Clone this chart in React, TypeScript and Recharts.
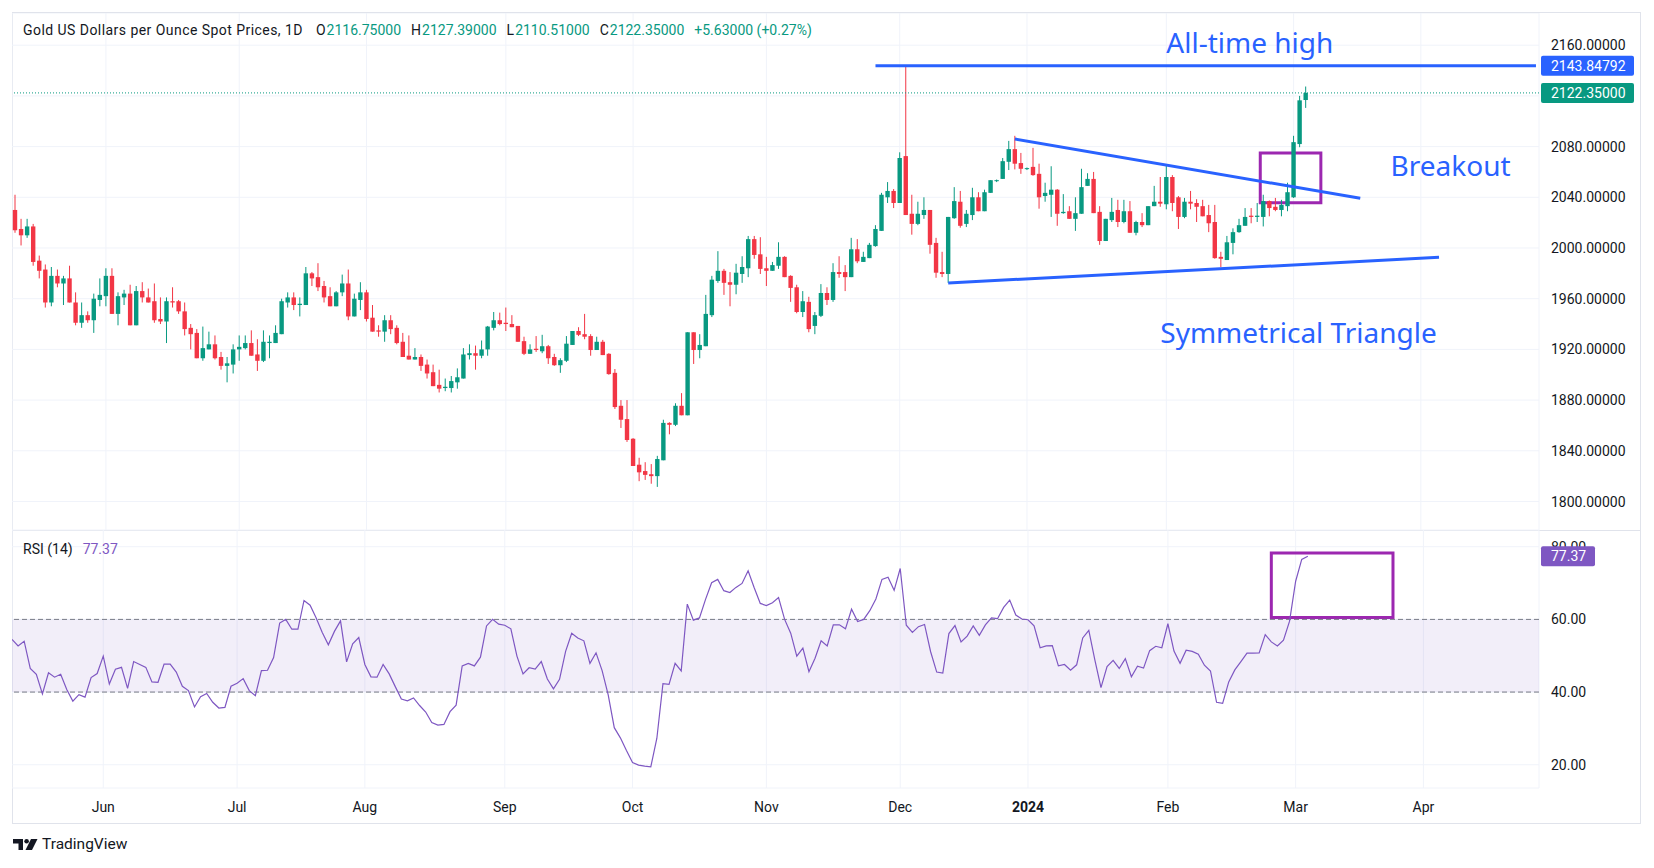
import React from "react";
import {
  ComposedChart,
  Bar,
  Line,
  XAxis,
  YAxis,
  CartesianGrid,
  ReferenceLine,
  ReferenceArea,
  ReferenceDot,
} from "recharts";

// Daily candles (spot gold, USD/oz), 2023-05-11 .. 2024-03-05
const START_DATE = "2023-05-11";
const SLOT_COUNT = 252; // trading days incl. the empty right-hand space

const opens = [
  2030, 2015, 2010, 2017, 1990, 1983, 1957, 1978, 1972, 1976, 1957, 1941, 1947, 1943, 1959, 1962, 1978, 1948, 1961, 1964,
  1939, 1966, 1961, 1958, 1944, 1942, 1958, 1958, 1950, 1937, 1933, 1913, 1920, 1924, 1914, 1907, 1908, 1920, 1921, 1925,
  1916, 1911, 1925, 1925, 1932, 1957, 1961, 1955, 1955, 1980, 1977, 1970, 1962, 1954, 1965, 1972, 1946, 1959, 1965, 1945,
  1935, 1934, 1943, 1937, 1926, 1915, 1912, 1914, 1908, 1902, 1892, 1889.5, 1889.5, 1894, 1897, 1915.5, 1917, 1915, 1920, 1937,
  1943, 1941, 1940, 1938.5, 1926.5, 1916.5, 1920.5, 1918.5, 1922.5, 1914, 1907.5, 1911, 1923.5, 1934.5, 1932, 1930.5, 1919.5, 1926, 1916.5, 1901.5,
  1875.5, 1865, 1849.5, 1829, 1824, 1821.5, 1820, 1832.5, 1862, 1860.5, 1875.5, 1868, 1933.5, 1919.5, 1922.5, 1947, 1974, 1982, 1973, 1971,
  1979.5, 1984, 2007, 1995, 1984, 1982, 1986, 1993, 1978, 1969, 1949.5, 1957.5, 1938.5, 1946.5, 1964.5, 1959, 1981, 1981, 1977, 1999,
  1989, 1992, 2001.5, 2013.5, 2040, 2045, 2035.5, 2072.5, 2027, 2019, 2026, 2030, 2004, 1981, 1979.5, 2023.5, 2036.5, 2019, 2026, 2040,
  2029, 2043.5, 2053, 2054.5, 2068, 2078, 2067, 2062.5, 2064, 2058.5, 2041, 2042, 2046, 2027.5, 2029, 2023, 2027, 2049, 2054.5, 2028.5,
  2005.5, 2022, 2030, 2020.5, 2029, 2012, 2020.5, 2018, 2033, 2036.5, 2034.5, 2056, 2040, 2024.5, 2036.5, 2035.5, 2033, 2026, 2020.5, 1993,
  1990.5, 2004, 2012.5, 2017.5, 2025.5, 2024.5, 2024.5, 2037, 2032.5, 2030, 2033, 2040, 2082, 2116.75,
];

const highs = [
  2042, 2023, 2023, 2019, 1994, 1987, 1985, 1983, 1978, 1986, 1965, 1957, 1950, 1964, 1976, 1984, 1984, 1965, 1967, 1971,
  1970, 1973, 1968, 1972, 1961, 1961, 1969, 1959, 1957, 1940, 1936, 1938, 1934, 1931, 1918, 1914, 1924, 1931, 1931, 1935,
  1928, 1935, 1931, 1939, 1960, 1965, 1965, 1961, 1985, 1981, 1988, 1974, 1969, 1966, 1979, 1983, 1964, 1973, 1967, 1955,
  1939, 1947, 1947, 1939, 1933, 1931, 1921, 1916, 1912, 1908, 1904, 1897, 1899, 1905, 1921, 1924, 1923, 1927, 1938.5, 1949.5,
  1949, 1953, 1947, 1938.5, 1930, 1924, 1930.5, 1931.5, 1923.5, 1916.5, 1913, 1930.5, 1934.5, 1937.5, 1948, 1932, 1930, 1927.5, 1917, 1904.5,
  1880, 1880, 1850, 1834.5, 1831, 1829.5, 1836, 1864.5, 1862.5, 1877.5, 1885.5, 1933.5, 1933.5, 1932, 1963, 1978, 1997.5, 1983.5, 1981, 1987.5,
  1993.5, 2009.5, 2009.5, 2008.5, 1993, 1989, 2004.5, 1993.5, 1978.5, 1971, 1966, 1961.5, 1949.5, 1971.5, 1969, 1988, 1993.5, 1986.5, 2008, 2007,
  1997, 2004, 2018, 2043.5, 2052, 2046.5, 2075.5, 2143.85, 2042, 2036.5, 2040, 2030, 2008, 1997, 2024.5, 2048, 2045, 2030, 2047.5, 2044,
  2046, 2053.5, 2054, 2071, 2084.5, 2088.5, 2075, 2063.5, 2079, 2066.5, 2051.5, 2064.5, 2046.5, 2042.5, 2033, 2040, 2062.5, 2059, 2060, 2033,
  2023, 2039.5, 2038, 2038, 2037, 2021.5, 2027.5, 2033, 2049, 2056, 2065.5, 2057.5, 2041, 2039.5, 2045, 2038.5, 2038, 2034, 2034, 1997,
  2009.5, 2015.5, 2023, 2031.5, 2031.5, 2035.5, 2042, 2037.5, 2039.5, 2038, 2051.5, 2088.5, 2120, 2127.39,
];

const lows = [
  2012, 2002, 2008, 1986, 1976, 1953, 1954, 1969, 1955, 1957, 1939, 1937, 1941, 1933, 1954, 1954, 1948, 1939, 1955, 1939,
  1939, 1957, 1957, 1941, 1940, 1925, 1953, 1948, 1931, 1920, 1913, 1911, 1920, 1912, 1904, 1894, 1901, 1911, 1920, 1915,
  1903, 1910, 1913, 1925, 1932, 1953, 1951, 1946, 1955, 1970, 1966, 1957, 1954, 1954, 1962, 1943, 1946, 1951, 1942, 1934,
  1930, 1926, 1932, 1924, 1914, 1912, 1912, 1903, 1897, 1891, 1886, 1887, 1886, 1889, 1897, 1912, 1904, 1913, 1915, 1935,
  1939, 1934.5, 1937.5, 1926, 1915.5, 1916.5, 1918, 1917, 1908.5, 1907, 1901.5, 1910, 1923.5, 1930.5, 1928, 1915, 1919.5, 1915.5, 1900, 1873,
  1858, 1847, 1828, 1816, 1817, 1814, 1811.5, 1832.5, 1853, 1859.5, 1868, 1868, 1908.5, 1913, 1922.5, 1945.5, 1972.5, 1963, 1954, 1963.5,
  1972.5, 1977, 1991.5, 1979.5, 1970, 1982, 1983.5, 1977, 1957.5, 1948.5, 1945.5, 1933.5, 1932, 1945.5, 1955, 1957.5, 1976.5, 1966, 1977, 1988,
  1989, 1992, 2001, 2013.5, 2035.5, 2031.5, 2035.5, 2026, 2010.5, 2018, 2023, 1995.5, 1976.5, 1977, 1972.5, 2023, 2016, 2016.5, 2022, 2029,
  2029, 2043.5, 2052, 2054.5, 2061.5, 2062, 2058.5, 2061.5, 2057, 2031, 2036.5, 2024.5, 2017.5, 2027, 2023, 2013.5, 2027, 2049, 2027.5, 2002.5,
  2005.5, 2020.5, 2016.5, 2019.5, 2012, 2010, 2016.5, 2018, 2033, 2032.5, 2030.5, 2029, 2015, 2023.5, 2030.5, 2020.5, 2025, 2012.5, 1991.5, 1985,
  1990.5, 1995, 2012, 2017.5, 2019.5, 2020.5, 2017, 2025, 2029, 2025, 2029, 2039.5, 2079.5, 2110.51,
];

const closes = [
  2014, 2010, 2017, 1989, 1982, 1957, 1978, 1972, 1976, 1957, 1941, 1947, 1943, 1960, 1963, 1978, 1948, 1962, 1964, 1939,
  1966, 1961, 1957, 1943, 1942, 1958, 1957, 1950, 1936, 1932, 1913, 1921, 1924, 1913, 1907, 1909, 1920, 1922, 1925, 1915,
  1911, 1926, 1926, 1933, 1958, 1961, 1955, 1956, 1980, 1976, 1969, 1961, 1954, 1965, 1972, 1946, 1960, 1965, 1944, 1934,
  1934, 1943, 1936, 1925, 1914, 1912, 1914, 1907, 1901, 1891, 1889, 1890.5, 1895, 1898, 1916, 1917, 1915, 1920, 1938, 1943,
  1940, 1940, 1937.5, 1926, 1916.5, 1920, 1919.5, 1922.5, 1913, 1907.5, 1911.5, 1924.5, 1934.5, 1931.5, 1930, 1919.5, 1926, 1915.5, 1900.5, 1874.5,
  1864.5, 1848.5, 1828, 1823, 1821, 1820, 1833.5, 1862, 1860.5, 1875.5, 1868, 1933.5, 1919.5, 1923.5, 1948, 1975, 1982, 1972.5, 1971, 1980.5,
  1985, 2007, 1994.5, 1983.5, 1982, 1986.5, 1993, 1977, 1968.5, 1949.5, 1958, 1936, 1947, 1964.5, 1959, 1981, 1979.5, 1977, 1999, 1989.5,
  1993, 2002.5, 2015, 2042, 2045, 2035.5, 2071, 2026, 2019, 2027, 2030, 2002.5, 1980.5, 1979.5, 2024.5, 2037, 2017.5, 2027, 2040, 2029,
  2044, 2053.5, 2053.5, 2068.5, 2078, 2066.5, 2062.5, 2063, 2057.5, 2040, 2043.5, 2046, 2027, 2028.5, 2023, 2027.5, 2048, 2054.5, 2027.5, 2005.5,
  2023, 2028.5, 2020.5, 2029, 2012, 2020.5, 2018, 2033, 2036.5, 2035, 2056, 2035.5, 2024.5, 2036.5, 2035, 2032.5, 2025, 2019.5, 1992, 1991.5,
  2004.5, 2012.5, 2018, 2024.5, 2024.5, 2025.5, 2037, 2031.5, 2030, 2034, 2044, 2083.5, 2116.5, 2122.35,
];

// RSI (14) as drawn in the lower pane
const rsiValues = [
  54.5, 52.7, 54.0, 46.5, 44.9, 39.5, 45.3, 44.1, 44.9, 40.7, 37.5, 39.3, 38.6, 44.0, 45.1, 49.9, 42.2, 46.3, 46.8, 41.0,
  48.4, 47.6, 46.8, 42.8, 42.7, 47.7, 47.7, 45.5, 41.6, 40.4, 35.9, 38.7, 39.6, 37.2, 35.6, 35.8, 41.6, 42.4, 43.7, 40.4,
  39.0, 45.9, 46.0, 49.5, 59.0, 60.0, 57.3, 57.3, 65.2, 63.9, 60.4, 56.4, 53.0, 56.7, 59.6, 48.3, 53.3, 55.0, 47.6, 44.2,
  44.1, 47.6, 45.0, 41.5, 38.1, 37.6, 38.4, 36.3, 34.5, 31.6, 30.9, 31.1, 34.6, 36.4, 47.2, 47.9, 47.2, 49.6, 58.2, 60.0,
  58.7, 58.4, 57.4, 49.9, 45.0, 46.7, 46.3, 48.4, 43.6, 40.9, 43.5, 51.2, 56.2, 54.9, 54.1, 47.9, 50.8, 45.9, 39.2, 30.2,
  27.4, 23.9, 20.6, 19.9, 19.6, 19.4, 27.3, 42.3, 42.1, 47.9, 45.8, 64.2, 59.8, 60.4, 65.5, 70.1, 71.0, 67.9, 67.4, 68.8,
  69.9, 73.4, 68.7, 64.4, 63.8, 64.6, 66.0, 60.0, 56.2, 49.9, 52.1, 45.6, 49.3, 54.1, 52.7, 58.5, 58.5, 57.4, 62.8, 59.4,
  60.0, 62.4, 65.6, 71.0, 71.6, 68.0, 74.0, 58.4, 56.4, 58.0, 58.6, 51.1, 45.5, 45.2, 56.1, 58.3, 53.8, 55.4, 58.2, 55.6,
  58.5, 60.4, 60.2, 63.3, 65.3, 61.2, 60.1, 59.9, 58.2, 52.2, 52.7, 52.8, 47.2, 47.6, 46.0, 47.5, 54.9, 57.0, 48.8, 41.2,
  47.0, 48.7, 46.5, 49.2, 44.2, 47.1, 46.6, 51.4, 52.6, 52.2, 58.8, 51.3, 47.9, 51.5, 51.2, 50.4, 47.4, 45.8, 37.2, 36.9,
  42.8, 46.1, 48.4, 50.7, 50.7, 50.8, 55.8, 53.8, 52.7, 54.3, 59.5, 70.5, 76.5, 77.37,
];

const monthTickDates = [
  "2023-06-01", "2023-07-03", "2023-08-01", "2023-09-01", "2023-10-02", "2023-11-01",
  "2023-12-01", "2024-01-01", "2024-02-01", "2024-03-01", "2024-04-01",
];
const monthTickLabels = ["Jun", "Jul", "Aug", "Sep", "Oct", "Nov", "Dec", "2024", "Feb", "Mar", "Apr"];

const priceTicks = [1800, 1840, 1880, 1920, 1960, 2000, 2040, 2080, 2120, 2160];
const rsiTicks = [20, 40, 60, 80];

const ALL_TIME_HIGH = 2143.84792;
const LAST_PRICE = 2122.35;
const LAST_RSI = 77.37;

// drawing annotations (slot index, value)
const upperTrend = [
  { i: 165, v: 2086 },
  { i: 222, v: 2039.2 },
];
const lowerTrend = [
  { i: 154, v: 1972.4 },
  { i: 235, v: 1992.6 },
];
const athStart = 142;
const breakoutBox = { i1: 206, i2: 215, v1: 2035.7, v2: 2074.9 };
const rsiBox = { i1: 207, i2: 227, v1: 60.55, v2: 78.3 };

const UP = "#089981";
const DOWN = "#f23645";
const BLUE = "#2962ff";
const PURPLE = "#9c27b0";
const RSI_COLOR = "#7e57c2";
const GRID = "#f0f3fa";
const BORDER = "#e0e3eb";
const TEXT = "#131722";
const FONT = "Roboto, sans-serif";

function weekdays(start: string, count: number) {
  const out: string[] = [];
  const d = new Date(start + "T00:00:00Z");
  while (out.length < count) {
    const wd = d.getUTCDay();
    if (wd !== 0 && wd !== 6) out.push(d.toISOString().slice(0, 10));
    d.setUTCDate(d.getUTCDate() + 1);
  }
  return out;
}

const dates = weekdays(START_DATE, SLOT_COUNT);

const rows = dates.map((date, i) =>
  i < closes.length
    ? { date, o: opens[i], h: highs[i], l: lows[i], c: closes[i], range: [lows[i], highs[i]], rsi: rsiValues[i] }
    : { date, range: null, rsi: null }
);

function Candle(props: any) {
  const { x, y, width, height, payload } = props;
  if (!payload || payload.o == null || height == null) return null;
  const { o, h, l, c } = payload;
  const ppu = height / (h - l || 1);
  const cx = x + width / 2;
  const top = y + (h - Math.max(o, c)) * ppu;
  const bot = y + (h - Math.min(o, c)) * ppu;
  const color = c >= o ? UP : DOWN;
  return (
    <g>
      <line x1={cx} x2={cx} y1={y} y2={y + height} stroke={color} strokeWidth={1} />
      <rect x={cx - 2.2} y={top} width={4.4} height={Math.max(1, bot - top)} fill={color} />
    </g>
  );
}

// coloured value tag sitting on the price / RSI scale
const axisTag = (text: string, bg: string, boxW: number) =>
  function Tag(props: any) {
    const vb = props.viewBox || {};
    const right = (vb.x || 0) + (vb.width || 0);
    const cy = vb.y || 0;
    return (
      <g>
        <rect x={right + 2} y={cy - 10} width={boxW} height={20} rx={2} fill={bg} />
        <text x={right + 12} y={cy} dy="0.36em" fill="#ffffff" fontSize={14} fontFamily={FONT}>
          {text}
        </text>
      </g>
    );
  };

// plain scale text drawn as a label, so a tag can be laid over it
const scaleText = (text: string) =>
  function ScaleText(props: any) {
    const vb = props.viewBox || {};
    return (
      <text x={(vb.x || 0) + (vb.width || 0) + 12} y={vb.y || 0} dy="0.36em" fill={TEXT} fontSize={14} fontFamily={FONT}>
        {text}
      </text>
    );
  };

const noteText = (text: string) =>
  function Note(props: any) {
    const vb = props.viewBox || {};
    return (
      <text x={vb.x} y={vb.y} fill={BLUE} fontSize={28} fontFamily="'Noto Sans', sans-serif">
        {text}
      </text>
    );
  };

function PriceTick(props: any) {
  const { x, y, payload } = props;
  if (payload.value === 2120) return null;
  return (
    <text x={x} y={y} dy="0.36em" fill={TEXT} fontSize={14} fontFamily={FONT}>
      {Number(payload.value).toFixed(5)}
    </text>
  );
}

function RsiTick(props: any) {
  const { x, y, payload } = props;
  if (payload.value === 80) return null;
  return (
    <text x={x} y={y} dy="0.36em" fill={TEXT} fontSize={14} fontFamily={FONT}>
      {Number(payload.value).toFixed(2)}
    </text>
  );
}

function MonthTick(props: any) {
  const { x, y, payload } = props;
  const label = monthTickLabels[monthTickDates.indexOf(payload.value)];
  return (
    <text x={x} y={y + 24} textAnchor="middle" fill={TEXT} fontSize={14} fontFamily={FONT} fontWeight={label === "2024" ? 700 : 400}>
      {label}
    </text>
  );
}

function Logo() {
  return (
    <div style={{ position: "absolute", left: 13, top: 835, display: "flex", alignItems: "center", gap: 4 }}>
      <svg width={25} height={11} viewBox="0 0 25 11">
        <path d="M0 0 H10 V11 H5.5 V4.5 H0 Z" fill={TEXT} />
        <circle cx={13.6} cy={2.3} r={2.3} fill={TEXT} />
        <path d="M18 0 H24.5 L19 11 H12.5 Z" fill={TEXT} />
      </svg>
      <span style={{ fontFamily: FONT, fontWeight: 400, fontSize: 15.5, color: TEXT }}>TradingView</span>
    </div>
  );
}

export default function App() {
  const seg = (p: { i: number; v: number }[]) => p.map((q) => ({ x: dates[q.i], y: q.v }));
  const val = { color: UP, marginLeft: 1 };
  return (
    <div style={{ position: "absolute", left: 0, top: 0, width: 1654, height: 868, background: "#ffffff" }}>
      <div
        style={{
          position: "absolute",
          left: 12,
          top: 12,
          width: 1629,
          height: 812,
          border: `1px solid ${BORDER}`,
          boxSizing: "border-box",
        }}
      />
      <div style={{ position: "absolute", left: 12, top: 13 }}>
        <ComposedChart width={1629} height={517} data={rows} margin={{ top: 0, right: 0, bottom: 0, left: 0 }} barCategoryGap={0}>
          <CartesianGrid stroke={GRID} strokeWidth={1} />
          <XAxis dataKey="date" type="category" hide ticks={monthTickDates} interval={0} />
          <YAxis
            orientation="right"
            width={102}
            domain={[1777.5, 2185.4]}
            allowDataOverflow
            ticks={priceTicks}
            interval={0}
            axisLine={false}
            tickLine={false}
            tickSize={0}
            tickMargin={12}
            tick={<PriceTick />}
          />
          <ReferenceLine y={LAST_PRICE} stroke={UP} strokeDasharray="1 2" strokeWidth={1} label={axisTag("2122.35000", UP, 93)} />
          <ReferenceLine y={ALL_TIME_HIGH} stroke="none" label={axisTag("2143.84792", BLUE, 93)} />
          <Bar dataKey="range" shape={<Candle />} isAnimationActive={false} />
          <ReferenceLine
            segment={[
              { x: dates[athStart], y: ALL_TIME_HIGH },
              { x: dates[SLOT_COUNT - 1], y: ALL_TIME_HIGH },
            ]}
            stroke={BLUE}
            strokeWidth={3}
          />
          <ReferenceLine segment={seg(upperTrend)} stroke={BLUE} strokeWidth={3} />
          <ReferenceLine segment={seg(lowerTrend)} stroke={BLUE} strokeWidth={3} />
          <ReferenceArea
            x1={dates[breakoutBox.i1]}
            x2={dates[breakoutBox.i2]}
            y1={breakoutBox.v1}
            y2={breakoutBox.v2}
            fill="none"
            fillOpacity={0}
            stroke={PURPLE}
            strokeWidth={3}
          />
          <ReferenceDot x={dates[190]} y={2153.8} r={0} stroke="none" label={noteText("All-time high")} />
          <ReferenceDot x={dates[227]} y={2056.8} r={0} stroke="none" label={noteText("Breakout")} />
          <ReferenceDot x={dates[189]} y={1925} r={0} stroke="none" label={noteText("Symmetrical Triangle")} />
        </ComposedChart>
      </div>
      <div style={{ position: "absolute", left: 12, top: 530, width: 1629, height: 1, background: BORDER }} />
      <div style={{ position: "absolute", left: 12, top: 530 }}>
        <ComposedChart width={1629} height={294} data={rows} margin={{ top: 0, right: 0, bottom: 0, left: 0 }}>
          <CartesianGrid stroke={GRID} strokeWidth={1} />
          <XAxis
            dataKey="date"
            type="category"
            ticks={monthTickDates}
            interval={0}
            height={36}
            axisLine={false}
            tickLine={false}
            tickSize={0}
            tickMargin={0}
            tick={<MonthTick />}
          />
          <YAxis
            orientation="right"
            width={102}
            domain={[13.6, 84.6]}
            allowDataOverflow
            ticks={rsiTicks}
            interval={0}
            axisLine={false}
            tickLine={false}
            tickSize={0}
            tickMargin={12}
            tick={<RsiTick />}
          />
          <ReferenceArea y1={40} y2={60} fill={RSI_COLOR} fillOpacity={0.1} stroke="none" />
          <ReferenceLine y={60} stroke="#787b86" strokeDasharray="5 3" />
          <ReferenceLine y={40} stroke="#787b86" strokeDasharray="5 3" />
          <ReferenceArea
            x1={dates[rsiBox.i1]}
            x2={dates[rsiBox.i2]}
            y1={rsiBox.v1}
            y2={rsiBox.v2}
            fill="none"
            fillOpacity={0}
            stroke={PURPLE}
            strokeWidth={3}
          />
          <Line dataKey="rsi" stroke={RSI_COLOR} strokeWidth={1.2} dot={false} isAnimationActive={false} type="linear" />
          <ReferenceLine y={80} stroke="none" label={scaleText("80.00")} />
          <ReferenceLine y={LAST_RSI} stroke="none" label={axisTag("77.37", RSI_COLOR, 54)} />
        </ComposedChart>
      </div>
      <div
        style={{
          position: "absolute",
          left: 23,
          top: 22,
          fontFamily: FONT,
          fontSize: 14,
          color: TEXT,
          whiteSpace: "nowrap",
          display: "flex",
          gap: 10,
        }}
      >
        <span style={{ letterSpacing: 0.45, marginRight: 3 }}>Gold US Dollars per Ounce Spot Prices, 1D</span>
        <span>
          O<span style={val}>2116.75000</span>
        </span>
        <span>
          H<span style={val}>2127.39000</span>
        </span>
        <span>
          L<span style={val}>2110.51000</span>
        </span>
        <span>
          C<span style={val}>2122.35000</span>
        </span>
        <span style={{ color: UP }}>+5.63000 (+0.27%)</span>
      </div>
      <div style={{ position: "absolute", left: 23, top: 541, fontFamily: FONT, fontSize: 14, color: TEXT, whiteSpace: "nowrap" }}>
        RSI (14)<span style={{ color: RSI_COLOR, marginLeft: 10 }}>77.37</span>
      </div>
      <Logo />
    </div>
  );
}
